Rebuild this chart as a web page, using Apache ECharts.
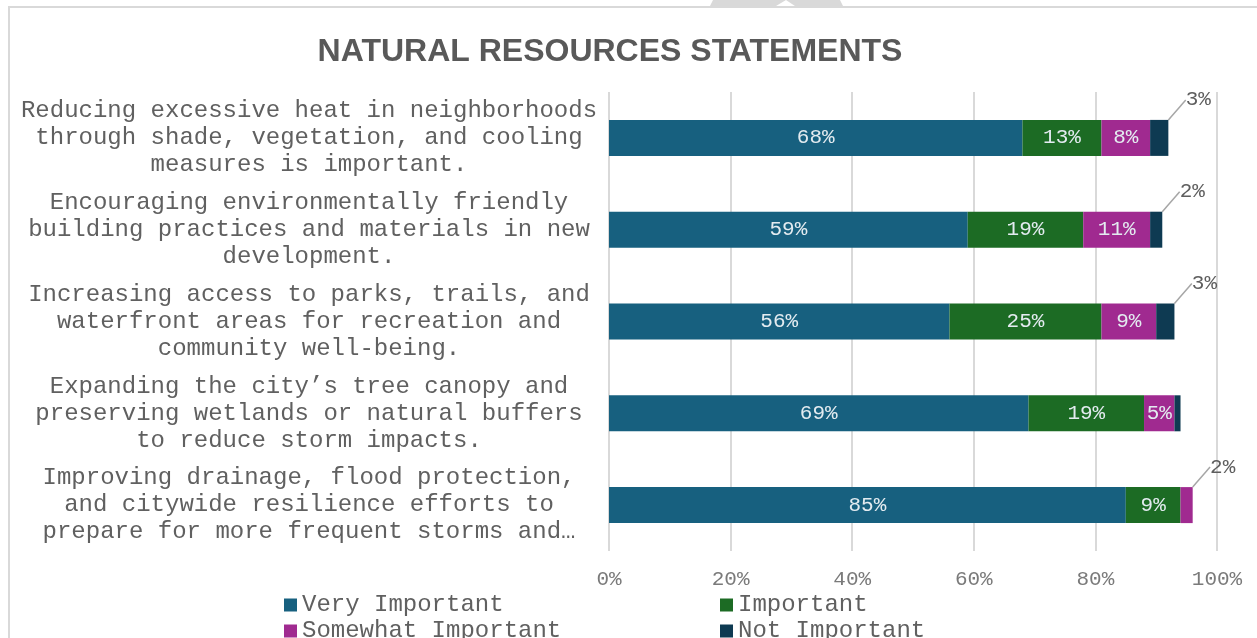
<!DOCTYPE html>
<html>
<head>
<meta charset="utf-8">
<title>Natural Resources Statements</title>
<script src="https://cdn.jsdelivr.net/npm/echarts@6/dist/echarts.min.js"></script>
<style>
  html, body { margin: 0; padding: 0; background: #ffffff; }
  #chart { width: 1257px; height: 638px; }
</style>
</head>
<body>
<div id="chart"></div>
<script>
// Survey statements (top to bottom)
const categories = [
  'Reducing excessive heat in neighborhoods\nthrough shade, vegetation, and cooling\nmeasures is important.',
  'Encouraging environmentally friendly\nbuilding practices and materials in new\ndevelopment.',
  'Increasing access to parks, trails, and\nwaterfront areas for recreation and\ncommunity well-being.',
  'Expanding the city\u2019s tree canopy and\npreserving wetlands or natural buffers\nto reduce storm impacts.',
  'Improving drainage, flood protection,\nand citywide resilience efforts to\nprepare for more frequent storms and\u2026'
];

// Share of responses, in percent
const veryImportant     = [68, 59, 56, 69, 85];
const important         = [13, 19, 25, 19, 9];
const somewhatImportant = [8, 11, 9, 5, 2];
const notImportant      = [3, 2, 3, 1, 0];

const seriesNames  = ['Very Important', 'Important', 'Somewhat Important', 'Not Important'];
const seriesColors = ['#17607f', '#1c6b24', '#a02a90', '#0e3a52'];

const MONO = '"Liberation Mono", "Courier New", monospace';
const TEXT_GREY = '#606060';

function makeSeries(name, values, color) {
  return {
    name: name,
    type: 'bar',
    stack: 'total',
    barWidth: 36,
    itemStyle: { color: color },
    emphasis: { disabled: true },
    data: values.map(function (v) {
      return {
        value: v,
        label: {
          show: v >= 2,
          color: v < 4 ? '#5e5e5e' : '#e3ebf0'
        }
      };
    }),
    label: {
      show: true,
      position: 'inside',
      formatter: '{c}%',
      fontFamily: MONO,
      fontSize: 21
    },
    // small segments get their label lifted above-right of the bar end
    labelLayout: function (p) {
      if (values[p.dataIndex] < 4) {
        return {
          x: p.rect.x + p.rect.width + 30,
          y: p.rect.y - 20,
          align: 'center',
          verticalAlign: 'middle'
        };
      }
      return {};
    },
    labelLine: {
      show: true,
      lineStyle: { color: '#a6a6a6', width: 1.5 }
    }
  };
}

const chart = echarts.init(document.getElementById('chart'), null, { renderer: 'canvas' });

chart.setOption({
  animation: false,
  backgroundColor: '#ffffff',
  title: {
    text: 'NATURAL RESOURCES STATEMENTS',
    left: 605,
    textAlign: 'center',
    top: 31,
    textStyle: {
      fontFamily: '"Liberation Sans", Arial, sans-serif',
      fontWeight: 'bold',
      fontSize: 32,
      color: '#595959'
    }
  },
  graphic: [
    {
      type: 'rect',
      silent: true,
      shape: { x: 9, y: 7, width: 1400, height: 800 },
      style: { fill: 'none', stroke: '#d9d9d9', lineWidth: 2 }
    },
    {
      type: 'polygon',
      silent: true,
      shape: { points: [[710, 6], [713, 0], [840, 0], [843, 6], [795, 6], [786, 0], [776, 6]] },
      style: { fill: '#d9d9d9' }
    }
  ],
  legend: {
    data: seriesNames,
    left: 284,
    top: 592,
    padding: 0,
    width: 900,
    itemGap: 0,
    itemWidth: 13,
    itemHeight: 13,
    icon: 'rect',
    selectedMode: false,
    textStyle: {
      fontFamily: MONO,
      fontSize: 24,
      color: TEXT_GREY,
      width: 418,
      lineHeight: 26
    }
  },
  grid: {
    left: 609,
    right: 40,
    top: 92,
    bottom: 87,
    containLabel: false
  },
  xAxis: {
    type: 'value',
    min: 0,
    max: 100,
    interval: 20,
    axisLine: { show: false },
    axisTick: { show: false },
    splitLine: { lineStyle: { color: '#d9d9d9', width: 2 } },
    axisLabel: {
      formatter: '{value}%',
      fontFamily: MONO,
      fontSize: 21,
      color: '#7a7a7a',
      margin: 18
    }
  },
  yAxis: {
    type: 'category',
    inverse: true,
    data: categories,
    axisLine: { show: false },
    axisTick: { show: false },
    axisLabel: {
      fontFamily: MONO,
      fontSize: 24,
      lineHeight: 27,
      color: TEXT_GREY,
      align: 'center',
      margin: 300
    }
  },
  series: [
    makeSeries(seriesNames[0], veryImportant, seriesColors[0]),
    makeSeries(seriesNames[1], important, seriesColors[1]),
    makeSeries(seriesNames[2], somewhatImportant, seriesColors[2]),
    makeSeries(seriesNames[3], notImportant, seriesColors[3])
  ]
});
</script>
</body>
</html>
